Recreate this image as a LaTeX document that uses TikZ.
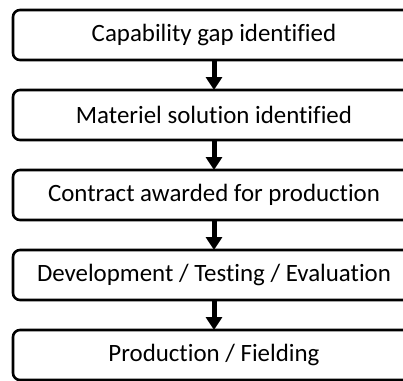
\documentclass[tikz,border=0pt]{standalone}
\usepackage{fontspec}
\setmainfont{Carlito}[Ligatures=NoCommon]
\usetikzlibrary{positioning,arrows.meta}

\begin{document}
\begin{tikzpicture}[
        x=1bp, y=1bp,
        node distance=30bp,
        stage/.style={rectangle, rounded corners=7bp, draw=black, line width=2.6bp, fill=white,
            minimum width=402bp, minimum height=50bp, outer sep=0pt,
            font=\fontsize{25}{29}\selectfont},
        flow/.style={line width=5bp, -{Triangle[width=16bp, length=13bp]}}
    ]
    \useasboundingbox (0,0) rectangle (403,-381);
    \node[stage] (gap) at (214,-35) {Capability gap identified};
    \node[stage, below=of gap] (sol) {Materiel solution identified};
    \node[stage, below=of sol] (con) {Contract awarded for production};
    \node[stage, below=of con] (dte) {Development / Testing / Evaluation};
    \node[stage, below=of dte] (fld) {Production / Fielding};
    % arrows between stages
    \draw[flow] (gap) -- (sol);
    \draw[flow] (sol) -- (con);
    \draw[flow] (con) -- (dte);
    \draw[flow] (dte) -- (fld);
\end{tikzpicture}
\end{document}
